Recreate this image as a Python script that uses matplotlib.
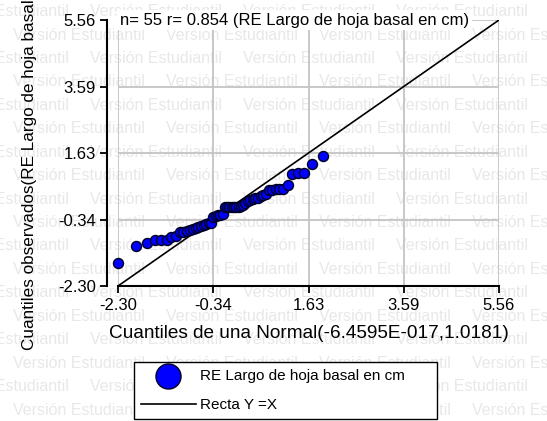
import matplotlib
matplotlib.use("Agg")
import matplotlib.pyplot as plt

plt.rcParams['font.family'] = ['Liberation Sans', 'DejaVu Sans']

# Normal quantiles (x) and sorted standardized residuals (y), n = 55
theo_q = [-2.30, -1.92, -1.70, -1.54, -1.41, -1.29, -1.20, -1.11, -1.03, -0.95,
          -0.88, -0.82, -0.76, -0.70, -0.64, -0.58, -0.53, -0.48, -0.43, -0.38,
          -0.33, -0.28, -0.23, -0.19, -0.14, -0.09, -0.05, 0.00, 0.05, 0.09,
          0.14, 0.19, 0.23, 0.28, 0.33, 0.38, 0.43, 0.48, 0.53, 0.58,
          0.64, 0.70, 0.76, 0.82, 0.88, 0.95, 1.03, 1.11, 1.20, 1.29,
          1.41, 1.54, 1.70, 1.92, 2.30]
obs_q = [-1.61, -1.12, -1.04, -0.94, -0.94, -0.94, -0.84, -0.82, -0.70, -0.69,
         -0.68, -0.65, -0.62, -0.60, -0.55, -0.53, -0.50, -0.47, -0.45, -0.45,
         -0.25, -0.23, -0.21, -0.19, -0.17, 0.03, 0.03, 0.04, 0.04, 0.04,
         0.04, 0.04, 0.06, 0.08, 0.16, 0.20, 0.24, 0.27, 0.29, 0.31,
         0.35, 0.39, 0.43, 0.53, 0.55, 0.56, 0.56, 0.56, 0.68, 1.01,
         1.03, 1.03, 1.31, 1.54, 5.56]
ticks = [-2.30, -0.34, 1.63, 3.59, 5.56]

title = "n= 55 r= 0.854 (RE Largo de hoja basal en cm)"
xlabel = "Cuantiles de una Normal(-6.4595E-017,1.0181)"
ylabel = "Cuantiles observados(RE Largo de hoja basal"
series_label = "RE Largo de hoja basal en cm"
line_label = "Recta Y =X"
watermark = "Versión Estudiantil"

W, H = 547, 421
fig = plt.figure(figsize=(W / 100, H / 100), dpi=100)

# watermark rows, alternating offset
for k in range(18):
    yy = 11.7 + 23.43 * k
    x0 = 90 if k % 2 == 0 else 13
    for n in range(-1, 5):
        fig.text((x0 + 153 * n) / W, 1 - yy / H, watermark, fontsize=11.5,
                 color='#e8e8e8', ha='left', va='center', zorder=-5)

ax = fig.add_axes([118 / W, 1 - 286 / H, 381 / W, 266 / H])
ax.patch.set_visible(False)

lo, hi = ticks[0], ticks[-1]
ax.set_xlim(lo, hi)
ax.set_ylim(lo, hi)
ax.set_xticks(ticks)
ax.set_yticks(ticks)
ax.set_xticklabels([f"{t:.2f}" for t in ticks])
ax.set_yticklabels([f"{t:.2f}" for t in ticks])
ax.tick_params(labelsize=12, length=5, width=1.3, colors='black')
ax.tick_params(axis='x', pad=4)
ax.tick_params(axis='y', pad=3)
ax.grid(True, color='#c4c4c4', linewidth=1.3)
ax.set_axisbelow(True)

for side in ['top', 'right']:
    ax.spines[side].set_visible(False)
ax.spines['left'].set_position(('outward', 8))
for side in ['left', 'bottom']:
    ax.spines[side].set_linewidth(1.5)

ln, = ax.plot([lo, hi], [lo, hi], color='black', linewidth=1.2, zorder=2)
sc = ax.scatter(theo_q, obs_q, s=52, color='#0000ff', edgecolors='#000022',
                linewidths=1.0, zorder=3, clip_on=False)

ax.text(lo + 0.04, hi, title, ha='left', va='center', fontsize=12, zorder=5,
        bbox=dict(facecolor='white', edgecolor='none', pad=2))

ax.set_xlabel(xlabel, fontsize=13.7, labelpad=8)
fig.text(30 / W, 1 - 350 / H, ylabel, rotation=90, ha='center', va='bottom',
         fontsize=12.3)

leg = fig.legend(handles=[sc, ln], labels=[series_label, line_label],
                 loc='lower left',
                 bbox_to_anchor=(134 / W, 2 / H, (437 - 134) / W, 61 / H),
                 mode='expand', markerscale=2.5, handlelength=3.6,
                 handletextpad=0.3, fontsize=11, fancybox=False,
                 edgecolor='black', framealpha=1, borderaxespad=0,
                 labelspacing=1.0, borderpad=0.45)
leg.get_frame().set_linewidth(1.0)

fig.savefig('out.png', dpi=100)
